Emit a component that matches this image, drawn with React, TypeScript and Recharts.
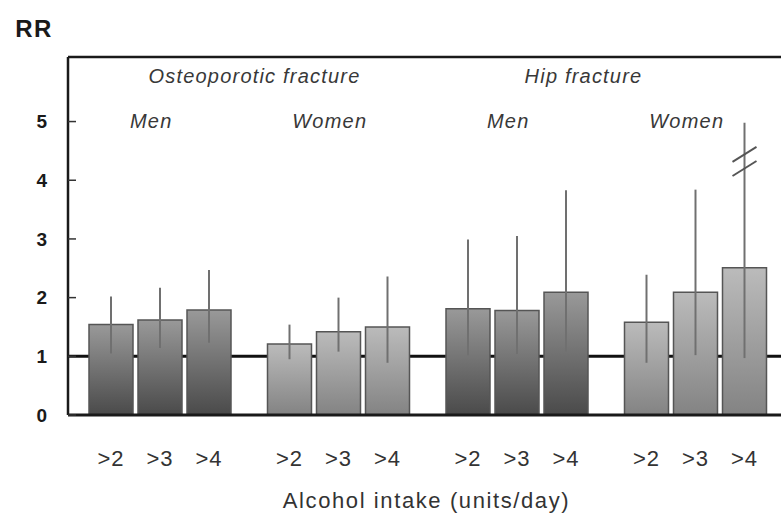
import React from 'react';
import {
  BarChart,
  Bar,
  XAxis,
  YAxis,
  CartesianGrid,
  ErrorBar,
  Cell,
  LabelList,
  ReferenceArea,
} from 'recharts';

// groups along the axis
const groupKeys = ['OM', 'OW', 'HM', 'HW'];
const sexLabels = ['Men', 'Women', 'Men', 'Women'];
const intakeLabels = ['>2', '>3', '>4'];

// relative risk per intake level (one entry per group)
const rr2 = [1.54, 1.21, 1.81, 1.58];
const rr3 = [1.62, 1.42, 1.78, 2.09];
const rr4 = [1.79, 1.5, 2.09, 2.51];

// 95% CI bounds
const lo2 = [1.05, 0.95, 1.02, 0.89];
const hi2 = [2.02, 1.54, 2.99, 2.39];
const lo3 = [1.14, 1.08, 1.04, 1.02];
const hi3 = [2.17, 2.0, 3.05, 3.84];
const lo4 = [1.23, 0.89, 1.08, 0.97];
const hi4 = [2.47, 2.36, 3.83, 4.98];

const yTicks = [0, 1, 2, 3, 4, 5];
// axis break drawn on the last CI
const breakValues = [4.44, 4.2];

const data = groupKeys.map((key, i) => ({
  key,
  sex: sexLabels[i],
  v2: rr2[i],
  v3: rr3[i],
  v4: rr4[i],
  e2: [rr2[i] - lo2[i], hi2[i] - rr2[i]],
  e3: [rr3[i] - lo3[i], hi3[i] - rr3[i]],
  e4: [rr4[i] - lo4[i], hi4[i] - rr4[i]],
}));

const font = 'Liberation Sans, Arial, Helvetica, sans-serif';

const SexTick = (props: any) => {
  const { x, y, payload, index } = props;
  return (
    <text
      x={x - 9}
      y={y + 64}
      dy="0.35em"
      textAnchor="middle"
      fontFamily={font}
      fontStyle="italic"
      fontSize={20}
      letterSpacing={1.2}
      fill="#383838"
    >
      {sexLabels[index] ?? payload.value}
    </text>
  );
};

const intakeLabel = (text: string, withBreak: boolean) => (props: any) => {
  const { x, y, width, height, value, index } = props;
  const bottom = y + height;
  const cx = x + width / 2;
  const perUnit = height / value;
  return (
    <g>
      <text
        x={cx}
        y={bottom + 51}
        textAnchor="middle"
        fontFamily={font}
        fontSize={22}
        letterSpacing={1}
        fill="#333"
      >
        {text}
      </text>
      {withBreak && index === groupKeys.length - 1
        ? breakValues.map((b) => {
            const by = bottom - b * perUnit;
            return (
              <line
                key={b}
                x1={cx - 12}
                y1={by + 7.5}
                x2={cx + 12}
                y2={by - 7.5}
                stroke="#555"
                strokeWidth={2}
              />
            );
          })
        : null}
    </g>
  );
};

const series = [
  { key: 'v2', err: 'e2' },
  { key: 'v3', err: 'e3' },
  { key: 'v4', err: 'e4' },
];

export default function App() {
  return (
    <div
      style={{
        position: 'absolute',
        left: 0,
        top: 0,
        width: 781,
        height: 513,
        overflow: 'hidden',
        background: '#fff',
      }}
    >
      <BarChart
        width={800}
        height={513}
        data={data}
        margin={{ top: 37, right: 15, bottom: 68, left: 0 }}
        barSize={44}
        barGap={5}
      >
        <defs>
          <linearGradient id="menFill" x1="0" y1="0" x2="0" y2="1">
            <stop offset="0%" stopColor="#999" />
            <stop offset="100%" stopColor="#4a4a4a" />
          </linearGradient>
          <linearGradient id="womenFill" x1="0" y1="0" x2="0" y2="1">
            <stop offset="0%" stopColor="#bbb" />
            <stop offset="100%" stopColor="#838383" />
          </linearGradient>
        </defs>
        <CartesianGrid
          vertical={false}
          horizontalValues={[1]}
          stroke="#111"
          strokeWidth={3}
        />
        <XAxis
          dataKey="key"
          tick={false}
          tickLine={false}
          height={30}
          padding={{ left: 3, right: 0 }}
          axisLine={{ stroke: '#1a1a1a', strokeWidth: 3 }}
          label={{
            value: 'Alcohol intake (units/day)',
            position: 'bottom',
            offset: 47,
            fontFamily: font,
            fontSize: 22,
            letterSpacing: 1.6,
            fill: '#333',
          }}
        />
        <XAxis
          xAxisId="top"
          orientation="top"
          dataKey="key"
          height={20}
          padding={{ left: 3, right: 0 }}
          tickLine={false}
          tickSize={0}
          tickMargin={0}
          tick={<SexTick />}
          axisLine={{ stroke: '#1a1a1a', strokeWidth: 2.5 }}
        />
        <YAxis
          width={68}
          domain={[0, 6.1]}
          ticks={yTicks}
          allowDataOverflow
          tickSize={-8}
          tickMargin={29}
          tickLine={{ stroke: '#333', strokeWidth: 1.5 }}
          axisLine={{ stroke: '#1a1a1a', strokeWidth: 2.5 }}
          tick={{ fontFamily: font, fontSize: 19, fontWeight: 'bold', fill: '#1a1a1a' }}
          label={{
            value: 'RR',
            position: 'top',
            offset: 20,
            fontFamily: font,
            fontSize: 24,
            fontWeight: 'bold',
            letterSpacing: 1.5,
            fill: '#1a1a1a',
          }}
        />
        <ReferenceArea
          x1="OM"
          x2="OW"
          fillOpacity={0}
          strokeOpacity={0}
          label={{
            value: 'Osteoporotic fracture',
            position: 'insideTop',
            offset: 12,
            dx: 5,
            fontFamily: font,
            fontStyle: 'italic',
            fontSize: 20,
            letterSpacing: 1.2,
            fill: '#383838',
          }}
        />
        <ReferenceArea
          x1="HM"
          x2="HW"
          fillOpacity={0}
          strokeOpacity={0}
          label={{
            value: 'Hip fracture',
            position: 'insideTop',
            offset: 12,
            dx: -23,
            fontFamily: font,
            fontStyle: 'italic',
            fontSize: 20,
            letterSpacing: 1.2,
            fill: '#383838',
          }}
        />
        {series.map((s, si) => (
          <Bar
            key={s.key}
            dataKey={s.key}
            stroke="#555"
            strokeWidth={1.5}
            isAnimationActive={false}
          >
            {data.map((d) => (
              <Cell
                key={d.key}
                fill={d.sex === 'Men' ? 'url(#menFill)' : 'url(#womenFill)'}
              />
            ))}
            <ErrorBar dataKey={s.err} width={0} stroke="#707070" strokeWidth={2} />
            <LabelList
              dataKey={s.key}
              content={intakeLabel(intakeLabels[si], si === series.length - 1)}
            />
          </Bar>
        ))}
      </BarChart>
    </div>
  );
}
